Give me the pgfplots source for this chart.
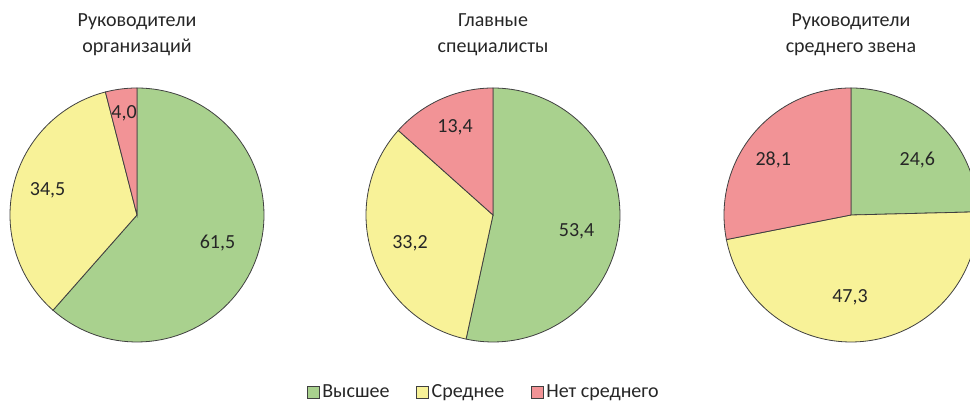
\documentclass[border=0pt]{standalone}
\usepackage{fontspec}
\setmainfont{Carlito}
\usepackage{pgfplots}
\pgfplotsset{compat=1.18}

\definecolor{gr}{RGB}{169,209,142}
\definecolor{ye}{RGB}{248,242,152}
\definecolor{rd}{RGB}{242,147,150}
\definecolor{edgecol}{RGB}{64,64,64}
\definecolor{txt}{RGB}{38,38,38}

\newcommand\chfont{\fontsize{15}{19.5}\selectfont}

% one wedge: #1 share before it, #2 share, #3 colour, #4 label radius, #5 label angle shift
\newcommand\pieslice[5]{%
  \pgfmathsetmacro\angA{90-3.6*#1}%
  \pgfmathsetmacro\angB{90-3.6*(#1+#2)}%
  \pgfmathsetmacro\angM{90-3.6*(#1+#2/2)+#5}%
  \pgfmathsetmacro\lx{#4*cos(\angM)}%
  \pgfmathsetmacro\ly{#4*sin(\angM)}%
  \edef\doit{%
    \noexpand\addplot[forget plot, fill=#3, draw=edgecol, line width=0.6pt,
      domain=\angB:\angA, samples=90] ({cos(x)},{sin(x)}) -- (axis cs:0,0) -- cycle;
    \noexpand\node[lbl] at (axis cs:\lx,\ly) {\noexpand\pgfmathprintnumber{#2}};
  }\doit
}

\pgfplotsset{
  pie/.style={hide axis, scale only axis, width=190.5pt, height=190.5pt,
    xmin=-1, xmax=1, ymin=-1, ymax=1, clip=false, anchor=origin},
  /pgf/number format/.cd, use comma, fixed, fixed zerofill, precision=1,
    assume math mode=true,
}
\tikzset{lbl/.style={font=\chfont, text=txt}}

\begin{document}
\begin{tikzpicture}[x=0.75pt, y=0.75pt]
\useasboundingbox (0,0) rectangle (970,402);
\clip (0,0) rectangle (970,402);

% Руководители организаций
\begin{axis}[pie, at={(102.75pt,140.25pt)}]
  \pieslice{0}{61.5}{gr}{0.67}{1.7}
  \pieslice{61.5}{34.5}{ye}{0.73}{-2}
  \pieslice{96.0}{4.0}{rd}{0.81}{0}
\end{axis}

% Главные специалисты
\begin{axis}[pie, at={(369.75pt,140.25pt)},
  legend columns=3,
  legend style={draw=none, fill=none, font=\chfont, text=txt,
    at={(0.465,-0.197)}, anchor=center,
    /tikz/every even column/.append style={column sep=18pt}},
  legend image code/.code={\draw[#1] (0pt,-4.5pt) rectangle (9pt,4.5pt);},
  ]
  \pieslice{0}{53.4}{gr}{0.67}{-4.7}
  \pieslice{53.4}{33.2}{ye}{0.69}{0.6}
  \pieslice{86.6}{13.4}{rd}{0.75}{-0.7}
  \addlegendimage{fill=gr, draw=edgecol, line width=0.6pt}
  \addlegendentry{Высшее}
  \addlegendimage{fill=ye, draw=edgecol, line width=0.6pt}
  \addlegendentry{Среднее}
  \addlegendimage{fill=rd, draw=edgecol, line width=0.6pt}
  \addlegendentry{Нет среднего}
\end{axis}

% Руководители среднего звена
\begin{axis}[pie, at={(638.25pt,140.25pt)}]
  \pieslice{0}{24.6}{gr}{0.68}{-5.9}
  \pieslice{24.6}{47.3}{ye}{0.65}{-7}
  \pieslice{71.9}{28.1}{rd}{0.75}{4.2}
\end{axis}

\node[font=\chfont, text=txt, align=center] at (137,367) {Руководители\\организаций};
\node[font=\chfont, text=txt, align=center] at (493,367) {Главные\\специалисты};
\node[font=\chfont, text=txt, align=center] at (851,367) {Руководители\\среднего звена};
\end{tikzpicture}
\end{document}
